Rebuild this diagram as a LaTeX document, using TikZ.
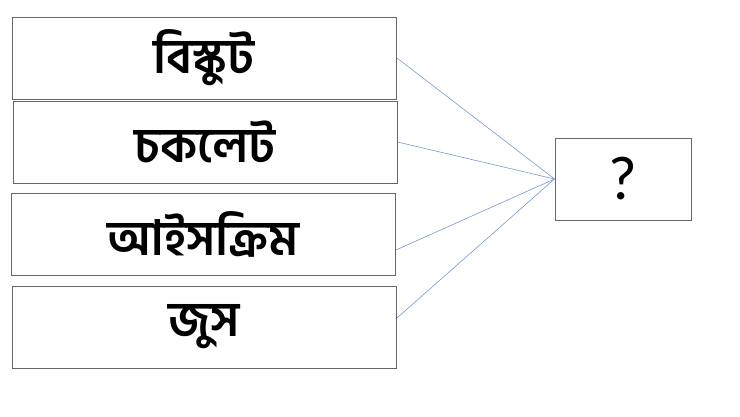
\documentclass[tikz,border=0pt]{standalone}
\usepackage{fontspec}
\newfontfamily\bnfont[Script=Bengali]{Hind Siliguri}
\newfontfamily\qfont{Carlito}
\usepackage{tikz}

\begin{document}
\begin{tikzpicture}[x=1pt,y=-1pt]
    \tikzstyle{food} = [shape=rectangle,draw=black!60,line width=0.9pt,minimum width=384pt,minimum height=82pt,inner sep=0pt,font=\bnfont\bfseries\fontsize{48.5}{52}\selectfont]
    \tikzstyle{ask} = [shape=rectangle,draw=black!60,line width=0.9pt,minimum width=136pt,minimum height=82pt,inner sep=0pt,font=\qfont\fontsize{62}{66}\selectfont]
    \tikzstyle{link} = [draw={rgb,255:red,120;green,152;blue,210},line width=0.6pt]
    \useasboundingbox (0,0) rectangle (740,416);
    \node [food] (b1) at (204.5,58) {বিস্কুট};
    \node [food] (b2) at (205,142) {চকলেট};
    \node [food] (b3) at (203.5,234.5) {আইসক্রিম};
    \node [food] (b4) at (204.5,327) {জুস};
    \node [ask] (q) at (623,179) {?};
    \draw [link] (b1.east) -- (q.west);
    \draw [link] (b2.east) -- (q.west);
    \draw [link] ([yshift=-15.5pt]b3.east) -- (q.west);
    \draw [link] ([yshift=9pt]b4.east) -- (q.west);
  \end{tikzpicture}
\end{document}
